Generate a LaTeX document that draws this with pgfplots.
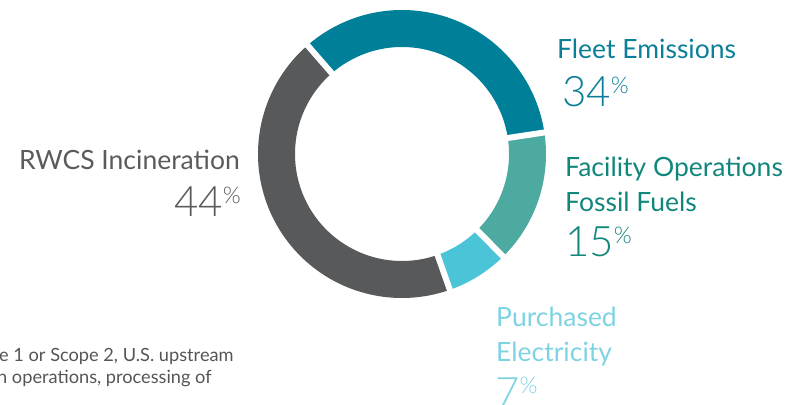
\documentclass[border=0pt]{standalone}
\usepackage{pgfplots}
\usepackage{pgfplotstable}
\pgfplotsset{compat=1.18}
\usepackage{fontspec}
\setmainfont{Lato}
\newfontfamily\lalight{Lato Light}
\definecolor{cTeal}{HTML}{007F98}
\definecolor{cGreen}{HTML}{4DAAA0}
\definecolor{cBlue}{HTML}{4CC4D7}
\definecolor{cGray}{HTML}{58595B}
\definecolor{tTeal}{HTML}{0A7F97}
\definecolor{tGreen}{HTML}{11877C}
\definecolor{tBlue}{HTML}{7ED3E3}
\definecolor{tGray}{HTML}{5A5B5D}
\definecolor{tNote}{HTML}{555555}

\pgfplotstableread{
name share
Fleet 34
Facility 15
Purchased 7
RWCS 44
}\shares
\pgfplotstablegetelem{0}{share}\of\shares \let\sA\pgfplotsretval
\pgfplotstablegetelem{1}{share}\of\shares \let\sB\pgfplotsretval
\pgfplotstablegetelem{2}{share}\of\shares \let\sC\pgfplotsretval
\pgfplotstablegetelem{3}{share}\of\shares \let\sD\pgfplotsretval
\pgfmathsetmacro\aA{131}
\pgfmathsetmacro\aB{\aA-3.6*\sA}
\pgfmathsetmacro\aC{\aB-3.6*\sB}
\pgfmathsetmacro\aD{\aC-3.6*\sC}
\pgfmathsetmacro\aE{\aD-3.6*\sD}

\newcommand{\pct}[1]{{\fontsize{42}{42}\lalight #1\raisebox{13.5pt}{\fontsize{23}{23}\selectfont\lalight\%}}}
\newcommand{\lab}{\fontsize{26.5}{26.5}\selectfont}

\begin{document}
\begin{tikzpicture}
\useasboundingbox (0,0) rectangle (789pt,404pt);
\clip (0,0) rectangle (789pt,404pt);
\begin{axis}[
  at={(0,0)}, anchor=south west,
  x=1pt, y=1pt,
  xmin=0, xmax=789, ymin=0, ymax=404,
  hide axis, clip=false,
]
% ring segments
\addplot[cTeal, line width=37pt, line cap=butt, domain=\aB:\aA, samples=120] ({402+125.5*cos(x)},{250+125.5*sin(x)});
\addplot[cGreen, line width=37pt, line cap=butt, domain=\aC:\aB, samples=80] ({402+125.5*cos(x)},{250+125.5*sin(x)});
\addplot[cBlue, line width=37pt, line cap=butt, domain=\aD:\aC, samples=60] ({402+125.5*cos(x)},{250+125.5*sin(x)});
\addplot[cGray, line width=37pt, line cap=butt, domain=\aE:\aD, samples=150] ({402+125.5*cos(x)},{250+125.5*sin(x)});
% gaps
\addplot[white, line width=6pt, domain=95:160, samples=2] ({402+x*cos(\aA)},{250+x*sin(\aA)});
\addplot[white, line width=6pt, domain=95:160, samples=2] ({402+x*cos(\aB)},{250+x*sin(\aB)});
\addplot[white, line width=6pt, domain=95:160, samples=2] ({402+x*cos(\aC)},{250+x*sin(\aC)});
\addplot[white, line width=6pt, domain=95:160, samples=2] ({402+x*cos(\aD)},{250+x*sin(\aD)});

% labels
\node[anchor=base west, text=tTeal, font=\lab, inner sep=0] at (axis cs:557,345) {Fleet Emissions};
\node[anchor=base west, text=tTeal, inner sep=0] at (axis cs:562,297) {\pct{34}};
\node[anchor=base west, text=tGreen, font=\lab, inner sep=0] at (axis cs:565,227) {Facility Operations};
\node[anchor=base west, text=tGreen, font=\lab, inner sep=0] at (axis cs:565,192) {Fossil Fuels};
\node[anchor=base west, text=tGreen, inner sep=0] at (axis cs:565,147) {\pct{15}};
\node[anchor=base west, text=tBlue, font=\lab, inner sep=0] at (axis cs:496,77) {Purchased};
\node[anchor=base west, text=tBlue, font=\lab, inner sep=0] at (axis cs:496,42) {Electricity};
\node[anchor=base west, text=tBlue, inner sep=0] at (axis cs:495,-3) {\pct{7}};
\node[anchor=base east, text=tGray, font=\lab, inner sep=0] at (axis cs:240,234) {RWCS Incineration};
\node[anchor=base east, text=tGray, inner sep=0] at (axis cs:241,187) {\pct{44}};
% footnote (cut at left edge)
\node[anchor=base west, text=tNote, font=\fontsize{18.2}{18.2}\selectfont, inner sep=0] at (axis cs:-1,42) {e 1 or Scope 2, U.S. upstream};
\node[anchor=base west, text=tNote, font=\fontsize{18.2}{18.2}\selectfont, inner sep=0] at (axis cs:-3,20) {n operations, processing of};
\end{axis}
\end{tikzpicture}
\end{document}
